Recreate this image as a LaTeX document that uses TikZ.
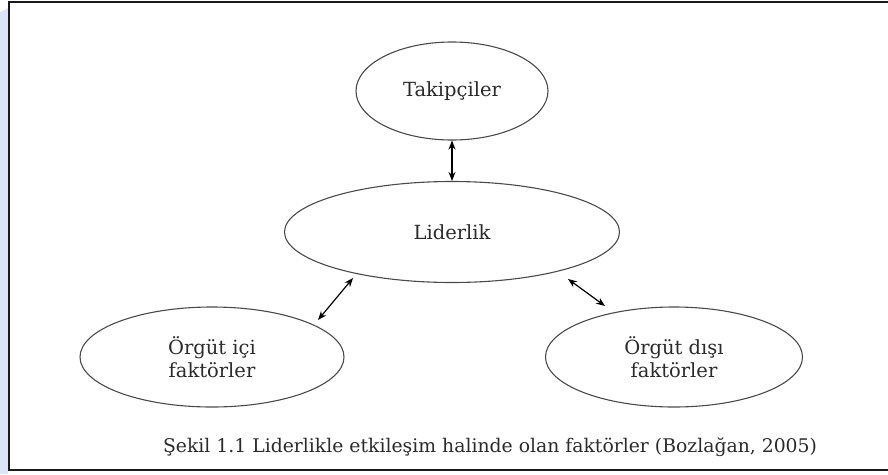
\documentclass[tikz,border=0pt]{standalone}
\usepackage{fontspec}
\setmainfont{DejaVu Serif}
\usetikzlibrary{arrows.meta,shapes.geometric}
\definecolor{ringgray}{HTML}{4A4A4A}
\definecolor{framedark}{HTML}{1A1A1A}
\definecolor{inkgray}{HTML}{2B2B2B}
\definecolor{markblue}{HTML}{DCE5F7}
\tikzset{
  >={Stealth[length=9pt,width=7pt]},
  % faktörler
  fak/.style={ellipse,draw=ringgray,line width=1.1pt,inner sep=0pt,align=center,
              font=\fontsize{19.5}{23}\selectfont,text=inkgray},
  ok/.style={<->,draw=black,line width=1.2pt},
  caption/.style={font=\fontsize{18.8}{22}\selectfont,text=inkgray,inner sep=0pt},
  frame/.style={draw=framedark,line width=2pt},
}
\begin{document}
\begin{tikzpicture}[x=1pt,y=-1pt]
  \useasboundingbox (0,0) rectangle (888,474);
  \fill[markblue] (0,12) -- (8,8) -- (8,474) -- (0,474) -- cycle;
  \draw[frame] (892,2) -- (9,2) -- (9,470) -- (892,470);
  \node[fak,minimum width=192pt,minimum height=98pt] (tak) at (452,91) {Takipçiler};
  \node[fak,minimum width=335pt,minimum height=101pt] (lid) at (452,232) {Liderlik};
  \node[fak,minimum width=264pt,minimum height=100pt] (ici) at (212,357) {Örgüt içi\\faktörler};
  \node[fak,minimum width=257pt,minimum height=100pt] (dis) at (674,357) {Örgüt dışı\\faktörler};
  \node[caption] (cap) at (490,447) {Şekil 1.1 Liderlikle etkileşim halinde olan faktörler (Bozlağan, 2005)};
  \coordinate (ici-uc) at (318,320);
  \coordinate (lid-sol) at (353,278);
  \coordinate (lid-sag) at (568,279);
  \coordinate (dis-uc) at (605,306);
  \draw[ok] (tak) -- (lid);
  \draw[ok] (ici-uc) -- (lid-sol);
  \draw[ok] (lid-sag) -- (dis-uc);
\end{tikzpicture}
\end{document}
